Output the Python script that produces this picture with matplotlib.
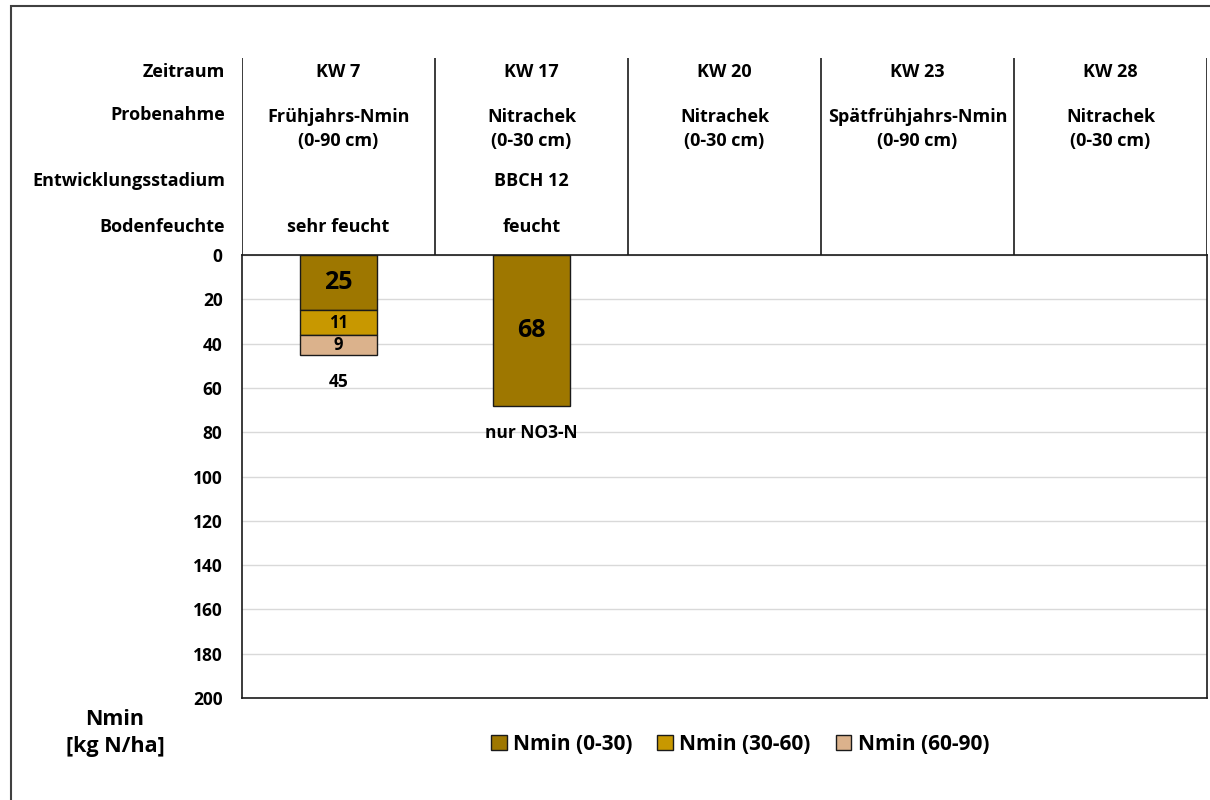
import numpy as np
import matplotlib
matplotlib.use("Agg")
import matplotlib.pyplot as plt
from matplotlib.patches import Rectangle, Patch
from matplotlib.transforms import blended_transform_factory

plt.rcParams['font.family'] = ['Open Sans', 'DejaVu Sans']
plt.rcParams['font.weight'] = 'bold'

weeks = ["KW 7", "KW 17", "KW 20", "KW 23", "KW 28"]
probenahme = ["Frühjahrs-Nmin\n(0-90 cm)", "Nitrachek\n(0-30 cm)", "Nitrachek\n(0-30 cm)",
              "Spätfrühjahrs-Nmin\n(0-90 cm)", "Nitrachek\n(0-30 cm)"]
stadium = ["", "BBCH 12", "", "", ""]
bodenfeuchte = ["sehr feucht", "feucht", "", "", ""]
row_names = ["Zeitraum", "Probenahme", "Entwicklungsstadium", "Bodenfeuchte"]

nmin_0_30 = [25, 68, None, None, None]
nmin_30_60 = [11, None, None, None, None]
nmin_60_90 = [9, None, None, None, None]
notes = [None, "nur NO3-N", None, None, None]

layers = [("Nmin (0-30)", nmin_0_30, "#9E7700", 18),
          ("Nmin (30-60)", nmin_30_60, "#C89800", 12),
          ("Nmin (60-90)", nmin_60_90, "#DBB28C", 12)]

W, H = 1210, 800
fig = plt.figure(figsize=(W / 100, H / 100), dpi=100)

# outer frame (only left and top edge visible)
fig.add_artist(Rectangle((11 / W, -0.05), 1.2, 1 - 6 / H + 0.05, transform=fig.transFigure,
                         fill=False, ec="#404040", lw=1.5))

left, right, top, bottom = 242, 1207, 255, 698
ax = fig.add_axes([left / W, 1 - bottom / H, (right - left) / W, (bottom - top) / H])
x = np.arange(len(weeks))

base = np.zeros(len(weeks))
for name, vals, color, fs in layers:
    for i, v in enumerate(vals):
        if v is None:
            continue
        ax.bar(x[i], v, bottom=base[i], width=0.395, color=color, edgecolor="#1a1a1a", lw=1, zorder=3)
        ax.text(x[i], base[i] + v / 2, str(v), ha="center", va="center", fontsize=fs,
                fontweight="bold", zorder=4)
        base[i] += v

for i in x:
    if base[i] == 0:
        continue
    label = notes[i] if notes[i] else f"{base[i]:.0f}"
    ax.annotate(label, (x[i], base[i]), xytext=(0, -19.5), textcoords="offset points",
                ha="center", va="center", fontsize=12.5, fontweight="bold")

ax.set_xlim(-0.5, len(weeks) - 0.5)
ax.set_ylim(200, 0)
ax.set_yticks(np.arange(0, 201, 20))
ax.set_xticks([])
ax.tick_params(axis="y", length=0, pad=14, labelsize=12.5)
for lbl in ax.get_yticklabels():
    lbl.set_fontweight("bold")
ax.grid(axis="y", color="#D9D9D9", lw=1, zorder=0)
for s in ax.spines.values():
    s.set_color("#1a1a1a")
    s.set_linewidth(1.2)

# header table above the plot
hdr = fig.add_axes([left / W, 1 - top / H, (right - left) / W, (top - 58) / H])
hdr.set_xlim(-0.5, len(weeks) - 0.5)
hdr.set_ylim(top - 58, 0)
hdr.axis("off")
hdr.vlines(np.arange(len(weeks) + 1) - 0.5, 0, top - 58, color="#1a1a1a", lw=1.2)

row_y = [14, 71, 123, 169]
rows = [weeks, probenahme, stadium, bodenfeuchte]
for ry, vals in zip(row_y, rows):
    for i, t in enumerate(vals):
        hdr.text(x[i], ry, t, ha="center", va="center", fontsize=13, fontweight="bold",
                 linespacing=1.45)

trans = blended_transform_factory(fig.transFigure, hdr.transData)
for ry, name in zip([14, 57, 123, 169], row_names):
    hdr.text(225 / W, ry, name, transform=trans, ha="right", va="center",
             fontsize=13, fontweight="bold")

fig.text(115 / W, 1 - 733 / H, "Nmin\n[kg N/ha]", ha="center", va="center",
         fontsize=15.5, fontweight="bold", linespacing=1.35)

handles = [Patch(facecolor=c, edgecolor="#1a1a1a", lw=1, label=n) for n, _, c, _ in layers]
fig.legend(handles=handles, loc="center", bbox_to_anchor=(740 / W, 1 - 744 / H), ncol=3,
           frameon=False, handlelength=0.75, handleheight=0.75, handletextpad=0.3,
           columnspacing=1.2, prop={"size": 15, "weight": "bold"})

fig.savefig("out.png", dpi=100)
